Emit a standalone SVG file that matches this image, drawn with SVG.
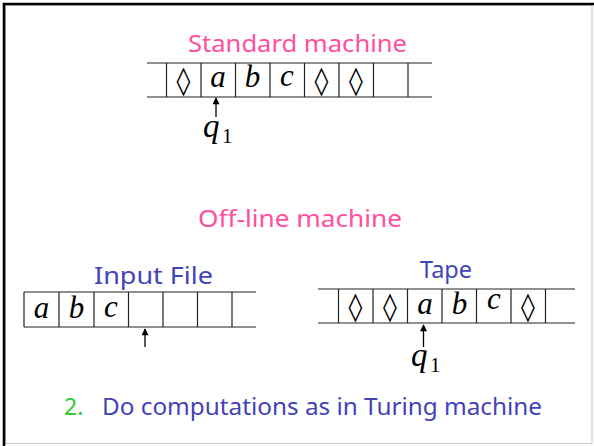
<svg xmlns="http://www.w3.org/2000/svg" width="594" height="446" viewBox="0 0 594 446">
  <style>
    .title { font-family: "Noto Sans", "Liberation Sans", sans-serif; font-size: 23px; }
    .pink { fill: #ff4fa0; }
    .blue { fill: #4343b8; }
    .green { fill: #33cc33; }
    .tape { stroke: #222; stroke-width: 1.2; fill: none; }
    .sym { font-family: "Liberation Serif", "DejaVu Serif", serif; font-size: 31px; font-style: italic; fill: #000; text-anchor: middle; }
    .loz { font-family: "DejaVu Sans", "Liberation Serif", serif; font-size: 28px; fill: #000; text-anchor: middle; }
    .q { font-family: "Liberation Serif", serif; font-size: 33px; font-style: italic; fill: #000; }
    .sub { font-family: "Liberation Serif", serif; font-size: 21px; fill: #000; }
    .head { stroke: #000; stroke-width: 1.3; marker-end: url(#tip); }
  </style>
  <defs>
    <marker id="tip" viewBox="0 0 10 10" refX="9" refY="5" markerWidth="8" markerHeight="7" markerUnits="userSpaceOnUse" orient="auto">
      <path d="M0,0 L10,5 L0,10 z" fill="#000"/>
    </marker>
  </defs>

  <rect width="594" height="446" fill="#fff"/>
  <!-- slide frame -->
  <rect x="5.5" y="5.5" width="586.5" height="438" fill="none" stroke="#c8c8c8" stroke-width="1"/>
  <path d="M4,446 V4 H594" fill="none" stroke="#000" stroke-width="2.6"/>

  <!-- standard machine -->
  <g id="standard">
    <text class="title pink" x="188" y="52" textLength="219" lengthAdjust="spacingAndGlyphs">Standard machine</text>
    <path class="tape" d="M147,63 H432 M147,97 H432 M166.5,63 V97 M201,63 V97 M235.5,63 V97 M270,63 V97 M304.5,63 V97 M339,63 V97 M373.5,63 V97 M408,63 V97"/>
    <text class="loz" x="183.5" y="90">◊</text>
    <text class="sym" x="218" y="87">a</text>
    <text class="sym" x="252.5" y="87">b</text>
    <text class="sym" x="287" y="86">c</text>
    <text class="loz" x="321.5" y="90">◊</text>
    <text class="loz" x="356" y="90">◊</text>
  </g>
  <g id="standard-head">
    <text class="q" x="203" y="137">q</text>
    <text class="sub" x="222" y="143">1</text>
  </g>

  <!-- off-line machine -->
  <text class="title pink" x="198" y="227" textLength="204" lengthAdjust="spacingAndGlyphs">Off-line machine</text>

  <g id="input-file">
    <text class="title blue" x="94" y="284" textLength="119" lengthAdjust="spacingAndGlyphs">Input File</text>
    <path class="tape" d="M24,292 H256 M24,327 H256 M24,292 V327 M59,292 V327 M94,292 V327 M128.5,292 V327 M163,292 V327 M197.5,292 V327 M232,292 V327"/>
    <text class="sym" x="41.5" y="318">a</text>
    <text class="sym" x="76.5" y="318">b</text>
    <text class="sym" x="111" y="317">c</text>
  </g>

  <g id="tape">
    <text class="title blue" x="420" y="278" textLength="52" lengthAdjust="spacingAndGlyphs">Tape</text>
    <path class="tape" d="M318,289 H575 M318,323 H575 M338.5,289 V323 M373,289 V323 M407.5,289 V323 M442,289 V323 M476.5,289 V323 M511,289 V323 M545.5,289 V323"/>
    <text class="loz" x="355.5" y="316">◊</text>
    <text class="loz" x="390" y="316">◊</text>
    <text class="sym" x="425" y="314">a</text>
    <text class="sym" x="459.5" y="314">b</text>
    <text class="sym" x="494" y="309">c</text>
    <text class="loz" x="528" y="316">◊</text>
  </g>
  <g id="tape-head">
    <text class="q" x="411" y="366">q</text>
    <text class="sub" x="430" y="372">1</text>
  </g>

  <!-- head pointers -->
  <g id="connectors">
    <line class="head" x1="216" y1="117" x2="216" y2="98"/>
    <line class="head" x1="145" y1="347" x2="145" y2="329"/>
    <line class="head" x1="423.5" y1="347" x2="423.5" y2="325"/>
  </g>

  <text class="title green" x="64" y="415">2.</text>
  <text class="title blue" x="102" y="415" textLength="440" lengthAdjust="spacingAndGlyphs">Do computations as in Turing machine</text>
</svg>
